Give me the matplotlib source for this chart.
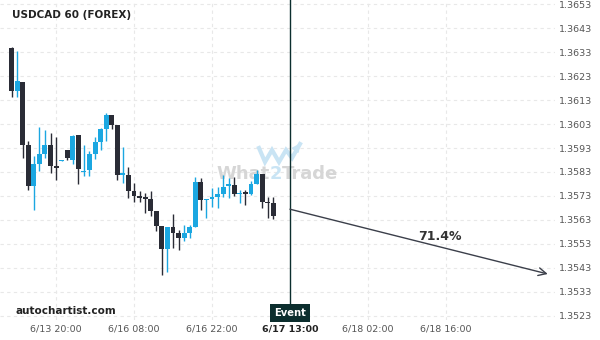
import numpy as np
import matplotlib
matplotlib.use("Agg")
import matplotlib.pyplot as plt
from matplotlib.offsetbox import TextArea, HPacker, AnnotationBbox
import matplotlib.transforms as mtransforms


# hourly candles, USDCAD
opens = [1.36347, 1.36169, 1.36204, 1.35943, 1.35773, 1.35865, 1.35906, 1.35943,
         1.35855, 1.35877, 1.35922, 1.35881, 1.35984, 1.35830, 1.35840, 1.35906,
         1.35955, 1.36009, 1.36068, 1.36026, 1.35819, 1.35818, 1.35751, 1.35730,
         1.35723, 1.35718, 1.35668, 1.35605, 1.35510, 1.35600, 1.35576, 1.35556,
         1.35577, 1.35602, 1.35790, 1.35713, 1.35719, 1.35724, 1.35738, 1.35773,
         1.35776, 1.35738, 1.35743, 1.35738, 1.35781, 1.35822, 1.35704, 1.35701]
highs = [1.36350, 1.36333, 1.36206, 1.35959, 1.35897, 1.36016, 1.36005, 1.35991,
         1.35975, 1.35880, 1.35922, 1.35984, 1.35984, 1.35941, 1.35918, 1.35977,
         1.36012, 1.36075, 1.36068, 1.36026, 1.35933, 1.35850, 1.35783, 1.35750,
         1.35741, 1.35751, 1.35668, 1.35605, 1.35602, 1.35655, 1.35588, 1.35609,
         1.35609, 1.35808, 1.35804, 1.35718, 1.35762, 1.35766, 1.35818, 1.35806,
         1.35810, 1.35755, 1.35755, 1.35794, 1.35840, 1.35822, 1.35727, 1.35727]
lows = [1.36141, 1.36141, 1.35887, 1.35754, 1.35670, 1.35834, 1.35887, 1.35825,
        1.35795, 1.35877, 1.35880, 1.35862, 1.35779, 1.35815, 1.35815, 1.35885,
        1.35920, 1.35958, 1.36008, 1.35795, 1.35783, 1.35723, 1.35705, 1.35704,
        1.35658, 1.35647, 1.35585, 1.35401, 1.35415, 1.35512, 1.35504, 1.35541,
        1.35556, 1.35602, 1.35672, 1.35638, 1.35683, 1.35679, 1.35727, 1.35722,
        1.35730, 1.35701, 1.35691, 1.35736, 1.35781, 1.35679, 1.35640, 1.35634]
closes = [1.36169, 1.36208, 1.35944, 1.35773, 1.35863, 1.35905, 1.35943, 1.35856,
          1.35848, 1.35880, 1.35890, 1.35980, 1.35844, 1.35834, 1.35905, 1.35955,
          1.36009, 1.36068, 1.36027, 1.35819, 1.35822, 1.35752, 1.35731, 1.35723,
          1.35719, 1.35669, 1.35606, 1.35510, 1.35602, 1.35577, 1.35556, 1.35576,
          1.35600, 1.35790, 1.35713, 1.35718, 1.35722, 1.35738, 1.35768, 1.35776,
          1.35738, 1.35741, 1.35740, 1.35780, 1.35822, 1.35706, 1.35702, 1.35648]

tick_pos = [8, 22, 36, 50, 64, 78]
tick_labels = ["6/13 20:00", "6/16 08:00", "6/16 22:00", "6/17 13:00", "6/18 02:00", "6/18 16:00"]
price_ticks = [1.3523, 1.3533, 1.3543, 1.3553, 1.3563, 1.3573, 1.3583, 1.3593,
               1.3603, 1.3613, 1.3623, 1.3633, 1.3643, 1.3653]

event_idx = 50
arrow_start = (50, 1.35675)
arrow_end = (96.3, 1.35405)
prob_label = "71.4%"
prob_pos = (76.9, 1.35563)

BLUE = "#1ba7e1"
DARK = "#2a2c36"
TEAL = "#0c2e2e"
GRID = "#e8e8e8"

fig = plt.figure(figsize=(6, 3.4), dpi=100)
ax = fig.add_axes([0, 20 / 340, 555 / 600, 320 / 340])

o = np.array(opens)
h = np.array(highs)
l = np.array(lows)
c = np.array(closes)
x = np.arange(len(o))
up = c > o
cols = np.where(up, BLUE, DARK)

ax.vlines(x, l, h, colors=cols, linewidth=1.0, zorder=3)
bottoms = np.minimum(o, c)
heights = np.maximum(np.abs(c - o), 0.00005)
ax.bar(x, heights, bottom=bottoms, width=0.88, color=cols, linewidth=0, zorder=4)

ax.set_xlim(-2.07, 97.6)
ax.set_ylim(1.352133, 1.365467)

# grid
for p in price_ticks:
    ax.axhline(p, color=GRID, linewidth=0.8, linestyle=(0, (3, 3)), zorder=0)
for t in tick_pos:
    if t != event_idx:
        ax.axvline(t, color=GRID, linewidth=0.8, linestyle=(0, (3, 3)), zorder=0)

ax.set_yticks(price_ticks)
ax.set_yticklabels([f"{p:.4f}" for p in price_ticks])
ax.yaxis.tick_right()
ax.tick_params(axis="y", length=0, pad=2.5, labelsize=6.8, labelcolor="#555555")
ax.set_xticks(tick_pos)
ax.set_xticklabels(tick_labels)
ax.tick_params(axis="x", length=0, pad=3, labelsize=6.8, labelcolor="#555555")
for lab in ax.get_xticklabels():
    if lab.get_text() == tick_labels[tick_pos.index(event_idx)]:
        lab.set_fontweight("bold")
        lab.set_color("#222222")
for s in ax.spines.values():
    s.set_visible(False)

# event line + label
ax.axvline(event_idx, ymin=0.044, ymax=1, color=TEAL, linewidth=1.0, zorder=5)
trans = mtransforms.blended_transform_factory(ax.transData, ax.transAxes)
ax.text(event_idx, 0.022, "Event", transform=trans, ha="center", va="center",
        fontsize=7.2, fontweight="bold", color="white", zorder=6,
        bbox=dict(boxstyle="square,pad=0.38", facecolor=TEAL, edgecolor="none"))

# forecast arrow
ax.annotate("", xy=arrow_end, xytext=arrow_start,
            arrowprops=dict(arrowstyle="->", color="#3b3f4a", lw=1.0,
                            shrinkA=0, shrinkB=0, mutation_scale=14), zorder=5)
ax.text(prob_pos[0], prob_pos[1], prob_label, ha="center", va="center",
        fontsize=9, fontweight="bold", color="#333333", zorder=6)

# texts
ax.text(12 / 555, 1 - 15 / 320, "USDCAD 60 (FOREX)", transform=ax.transAxes,
        ha="left", va="center", fontsize=7.5, fontweight="bold", color="#222222")
ax.text(16 / 555, (320 - 311) / 320, "autochartist.com", transform=ax.transAxes,
        ha="left", va="center", fontsize=7.5, fontweight="bold", color="#222222")

# watermark
wm_props = dict(fontsize=13, fontweight="bold", color="#d6d6d6")
parts = [TextArea("What", textprops=wm_props),
         TextArea("2", textprops=dict(wm_props, color="#c9e4f4")),
         TextArea("Trade", textprops=wm_props)]
wm = HPacker(children=parts, pad=0, sep=0)
ab = AnnotationBbox(wm, (277 / 555, (320 - 174) / 320), xycoords="axes fraction",
                    frameon=False, box_alignment=(0.5, 0.5), zorder=1)
ax.add_artist(ab)
logo_x = np.array([259, 265, 272, 279, 286, 292, 300]) / 555
logo_y = (320 - np.array([148, 162, 150, 162, 150, 158, 144])) / 320
ax.plot(logo_x, logo_y, transform=ax.transAxes, color="#c9e4f4", linewidth=3,
        solid_joinstyle="miter", zorder=1)
ax.annotate("", xy=(302 / 555, (320 - 141) / 320), xytext=(294 / 555, (320 - 152) / 320),
            xycoords="axes fraction", textcoords="axes fraction",
            arrowprops=dict(arrowstyle="-|>", color="#c9e4f4", lw=1.5, mutation_scale=11),
            zorder=1)

fig.savefig("out.png", dpi=100)
